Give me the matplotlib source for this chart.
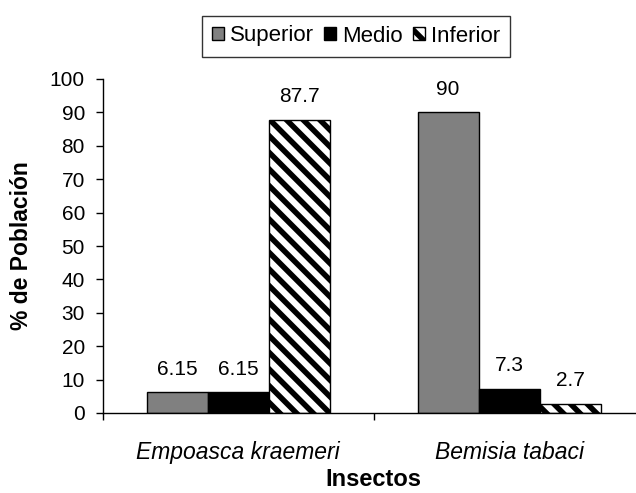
import numpy as np
import matplotlib
matplotlib.use('Agg')
import matplotlib.pyplot as plt

plt.rcParams['font.family'] = ['Liberation Sans', 'DejaVu Sans']
plt.rcParams['hatch.linewidth'] = 4

# datos
insectos = ['Empoasca kraemeri', 'Bemisia tabaci']
series = ['Superior', 'Medio', 'Inferior']
superior = [6.15, 90]
medio = [6.15, 7.3]
inferior = [87.7, 2.7]
etiquetas = [['6.15', '90'], ['6.15', '7.3'], ['87.7', '2.7']]

fig = plt.figure(figsize=(6.36, 4.93), dpi=100)
ax = fig.add_axes([103/636, 80/493, 541.5/636, 334/493])

x = np.arange(len(insectos))
w = 0.2255
estilos = [dict(color='#808080', edgecolor='black'),
           dict(color='black', edgecolor='black'),
           dict(color='white', edgecolor='black', hatch='\\\\')]

for i, (vals, est) in enumerate(zip([superior, medio, inferior], estilos)):
    barras = ax.bar(x + (i - 1) * w, vals, w, linewidth=1, label=series[i], **est)
    for b, txt in zip(barras, etiquetas[i]):
        ax.annotate(txt, (b.get_x() + b.get_width() / 2, b.get_height()),
                    xytext=(0, 10), textcoords='offset points',
                    ha='center', va='bottom', fontsize=15)

ax.set_xlim(-0.5, 1.5)
ax.set_ylim(0, 100)
ax.set_yticks(range(0, 101, 10))
ax.set_xticks(x)
ax.set_xticklabels(insectos, fontstyle='italic', fontsize=16.5)
ax.set_xticks([-0.5, 0.5, 1.5], minor=True)
ax.tick_params(axis='x', which='major', length=0, pad=20)
ax.tick_params(axis='x', which='minor', length=5, width=1, direction='out')
ax.tick_params(axis='y', length=5, width=1, direction='out', pad=8, labelsize=15)

for s in ['top', 'right']:
    ax.spines[s].set_visible(False)
ax.spines['left'].set_linewidth(1)
ax.spines['bottom'].set_linewidth(1)

ax.set_ylabel('% de Población', fontsize=16.5, fontweight='bold', labelpad=12)
ax.set_xlabel('Insectos', fontsize=17, fontweight='bold', va='baseline')
ax.xaxis.set_label_coords(0.5, (7 - 80) / 334)

leg = fig.legend(loc='center', bbox_to_anchor=(356/636, 1 - 36/493), ncol=3,
                 fontsize=16, frameon=True, fancybox=False, edgecolor='black',
                 handlelength=0.55, handleheight=0.55, handletextpad=0.27,
                 columnspacing=0.45, borderpad=0.45, borderaxespad=0)
leg.get_frame().set_linewidth(1)

fig.savefig('out.png', dpi=100)
